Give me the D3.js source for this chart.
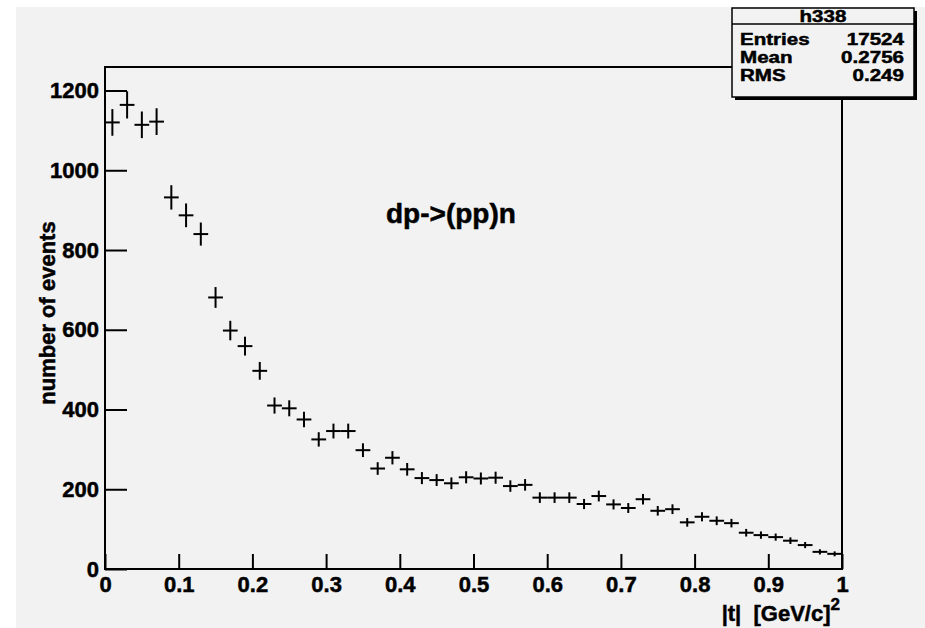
<!DOCTYPE html>
<html>
<head>
<meta charset="utf-8">
<script src="https://cdn.jsdelivr.net/npm/d3@7"></script>
<style>
  html, body { margin: 0; padding: 0; background: #ffffff; }
  svg { display: block; font-family: "Liberation Sans", Arial, Helvetica, sans-serif; font-weight: bold; }
  svg text { stroke: #000; stroke-width: 0.5px; fill: #000; }
</style>
</head>
<body>
<div class="js-container"></div>
<script>
;(function() {
  'use strict';

  // bin centres of |t| (50 bins, width 0.02)
  var binCenters = [
    0.01, 0.03, 0.05, 0.07, 0.09, 0.11, 0.13, 0.15, 0.17, 0.19,
    0.21, 0.23, 0.25, 0.27, 0.29, 0.31, 0.33, 0.35, 0.37, 0.39,
    0.41, 0.43, 0.45, 0.47, 0.49, 0.51, 0.53, 0.55, 0.57, 0.59,
    0.61, 0.63, 0.65, 0.67, 0.69, 0.71, 0.73, 0.75, 0.77, 0.79,
    0.81, 0.83, 0.85, 0.87, 0.89, 0.91, 0.93, 0.95, 0.97, 0.99
  ];
  var binWidth = 0.02;

  // number of events per bin
  var counts = [
    1120, 1164, 1114, 1122, 932, 887, 840, 681, 598, 559,
    497, 410, 403, 375, 325, 346, 346, 298, 252, 279,
    250, 228, 223, 215, 230, 227, 229, 208, 211, 179,
    179, 179, 163, 183, 162, 153, 175, 146, 150, 117,
    131, 121, 115, 91, 85, 80, 71, 60, 43, 38
  ];

  var xMajorTicks = [0, 0.1, 0.2, 0.3, 0.4, 0.5, 0.6, 0.7, 0.8, 0.9, 1];
  var xTickLabels = ['0', '0.1', '0.2', '0.3', '0.4', '0.5', '0.6', '0.7', '0.8', '0.9', '1'];
  var yMajorTicks = [0, 200, 400, 600, 800, 1000, 1200];
  var yTickLabels = ['0', '200', '400', '600', '800', '1000', '1200'];

  var statsTitle = 'h338';
  var statsNames = ['Entries', 'Mean', 'RMS'];
  var statsValues = ['17524', '0.2756', '0.249'];

  var W = 925, H = 628;
  var frame = { left: 105, right: 842, top: 67, bottom: 569 };

  var svg = d3.select('.js-container').append('svg')
              .attr('width', W)
              .attr('height', H);

  // canvas background
  svg.append('rect')
      .attr('x', 16).attr('y', 7)
      .attr('width', W - 16).attr('height', H - 7)
      .attr('fill', '#f2f2f2');

  var x = d3.scaleLinear().domain([0, 1]).range([frame.left, frame.right]);
  var y = d3.scaleLinear().domain([0, 1259]).range([frame.bottom, frame.top]);

  // minor ticks
  var xMinor = d3.range(0, 1.0001, binWidth);
  var yMinor = d3.range(0, 1259, 50);

  var gx = svg.append('g').attr('transform', 'translate(0,' + frame.bottom + ')');
  gx.call(d3.axisBottom(x).tickValues(xMinor).tickSize(-7.5).tickFormat(''));
  gx.call(d3.axisBottom(x).tickValues(xMajorTicks).tickSize(-15).tickPadding(7)
            .tickFormat(function(d, i) { return xTickLabels[i]; }));

  var gy = svg.append('g').attr('transform', 'translate(' + frame.left + ',0)');
  gy.call(d3.axisLeft(y).tickValues(yMinor).tickSize(-11).tickFormat(''));
  gy.call(d3.axisLeft(y).tickValues(yMajorTicks).tickSize(-22).tickPadding(6)
            .tickFormat(function(d, i) { return yTickLabels[i]; }));

  svg.selectAll('.domain').remove();
  svg.selectAll('.tick line').attr('stroke', '#000').attr('stroke-width', 2);
  svg.selectAll('.tick text')
      .attr('fill', '#000')
      .style('font-size', '22px')
      .style('font-family', '"Liberation Sans", Arial, sans-serif')
      .style('font-weight', 'bold');

  // frame
  svg.append('rect')
      .attr('x', frame.left).attr('y', frame.top)
      .attr('width', frame.right - frame.left)
      .attr('height', frame.bottom - frame.top)
      .attr('fill', 'none')
      .attr('stroke', '#000')
      .attr('stroke-width', 2);

  // histogram points: horizontal bar = bin width, vertical bar = sqrt(N)
  var pts = svg.append('g').attr('stroke', '#000').attr('stroke-width', 2);
  binCenters.forEach(function(c, i) {
    var n = counts[i];
    var err = Math.sqrt(n);
    pts.append('line')
        .attr('x1', x(c - binWidth / 2)).attr('x2', x(c + binWidth / 2))
        .attr('y1', y(n)).attr('y2', y(n));
    pts.append('line')
        .attr('x1', x(c)).attr('x2', x(c))
        .attr('y1', y(n - err)).attr('y2', y(Math.min(n + err, 1259)));
  });

  // label inside the plot
  svg.append('text')
      .attr('x', 386).attr('y', 223)
      .style('font-size', '28px')
      .text('dp->(pp)n');

  // axis titles
  svg.append('text')
      .attr('transform', 'translate(55,313) rotate(-90)')
      .attr('text-anchor', 'middle')
      .style('font-size', '22px')
      .text('number of events');

  var xt = svg.append('text')
      .attr('x', 840).attr('y', 621)
      .attr('text-anchor', 'end')
      .style('font-size', '22px');
  xt.append('tspan').text('|t|  [GeV/c]').attr('xml:space', 'preserve');
  xt.append('tspan').attr('dy', -11).style('font-size', '17px').text('2');

  // statistics box
  var box = { x: 732, y: 8, w: 182, h: 89, head: 16 };
  svg.append('rect')
      .attr('x', box.x + 3).attr('y', box.y + 3)
      .attr('width', box.w).attr('height', box.h)
      .attr('fill', '#000');
  svg.append('rect')
      .attr('x', box.x).attr('y', box.y)
      .attr('width', box.w).attr('height', box.h)
      .attr('fill', '#f2f2f2')
      .attr('stroke', '#000')
      .attr('stroke-width', 1.5);
  svg.append('line')
      .attr('x1', box.x).attr('x2', box.x + box.w)
      .attr('y1', box.y + box.head).attr('y2', box.y + box.head)
      .attr('stroke', '#000').attr('stroke-width', 1.5);

  var stretch = 1.21;
  svg.append('text')
      .attr('transform', 'translate(' + (box.x + box.w / 2) + ',22) scale(' + stretch + ',1)')
      .attr('text-anchor', 'middle')
      .style('font-size', '17px')
      .text(statsTitle);

  var rowY = [45, 63, 81];
  statsNames.forEach(function(name, i) {
    svg.append('text')
        .attr('transform', 'translate(740,' + rowY[i] + ') scale(' + stretch + ',1)')
        .style('font-size', '17px')
        .text(name);
    svg.append('text')
        .attr('transform', 'translate(904,' + rowY[i] + ') scale(' + stretch + ',1)')
        .attr('text-anchor', 'end')
        .style('font-size', '17px')
        .text(statsValues[i]);
  });

}());
</script>
</body>
</html>
